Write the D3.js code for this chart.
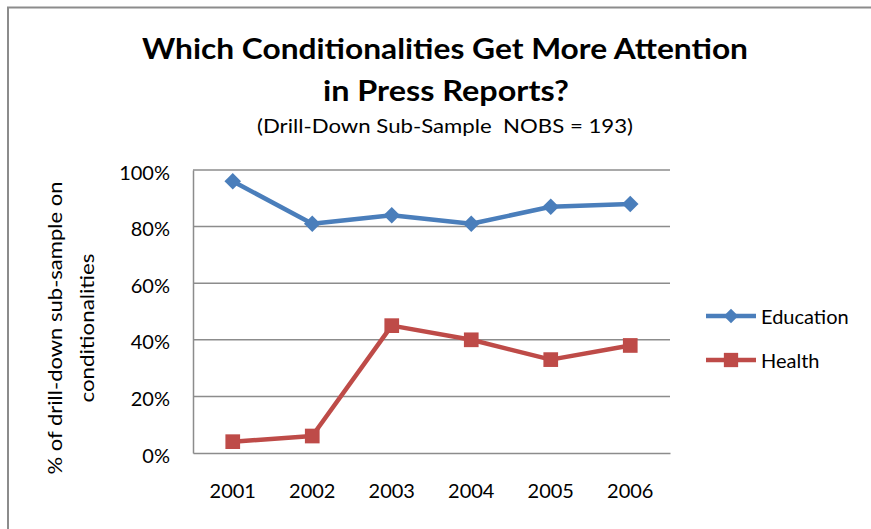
<!DOCTYPE html>
<html>
<head>
<meta charset="utf-8">
<script src="https://cdn.jsdelivr.net/npm/d3@7"></script>
<style>
  html, body { margin: 0; padding: 0; background: #fff; overflow: hidden; }
  svg { display: block; font-family: Lato, "Open Sans", "DejaVu Sans", sans-serif; }
</style>
</head>
<body>
<svg id="chart" width="871" height="529"></svg>
<script>
// Chart data
const years = ["2001", "2002", "2003", "2004", "2005", "2006"];
const education = [0.96, 0.81, 0.84, 0.81, 0.87, 0.88];
const health = [0.04, 0.06, 0.45, 0.40, 0.33, 0.38];
const yTicks = [0, 0.2, 0.4, 0.6, 0.8, 1.0];
const seriesNames = ["Education", "Health"];
const seriesColors = ["#4A7EBB", "#BE4B48"];

const svg = d3.select("#chart");
const W = 871, H = 529;

// Outer chart frame: only its left and top edges fall inside the view
svg.append("path")
  .attr("d", `M8,${H} V7.5 H${W}`)
  .attr("fill", "none")
  .attr("stroke", "#8c8c8c").attr("stroke-width", 2);

// Titles
svg.append("text")
  .attr("x", 445).attr("y", 59)
  .attr("text-anchor", "middle")
  .attr("font-weight", "bold").attr("font-size", 29)
  .attr("textLength", 606).attr("lengthAdjust", "spacingAndGlyphs")
  .text("Which Conditionalities Get More Attention");
svg.append("text")
  .attr("x", 446).attr("y", 101)
  .attr("text-anchor", "middle")
  .attr("font-weight", "bold").attr("font-size", 29)
  .attr("textLength", 246).attr("lengthAdjust", "spacingAndGlyphs")
  .text("in Press Reports?");
svg.append("text")
  .attr("x", 445).attr("y", 133)
  .attr("text-anchor", "middle")
  .attr("font-size", 20)
  .attr("textLength", 376).attr("lengthAdjust", "spacingAndGlyphs")
  .attr("xml:space", "preserve")
  .text("(Drill-Down Sub-Sample  NOBS = 193)");

// Plot area
const plot = { left: 193, right: 670, top: 170, bottom: 453 };
const x = d3.scaleBand().domain(years).range([plot.left, plot.right]);
const y = d3.scaleLinear().domain([0, 1]).range([plot.bottom, plot.top]);

// Horizontal gridlines
svg.append("g")
  .selectAll("line")
  .data(yTicks.filter(d => d > 0))
  .join("line")
  .attr("x1", plot.left).attr("x2", plot.right)
  .attr("y1", d => y(d)).attr("y2", d => y(d))
  .attr("stroke", "#8c8c8c").attr("stroke-width", 1.5);

// Y axis
const yAxis = svg.append("g")
  .attr("transform", `translate(${plot.left},0)`)
  .call(d3.axisLeft(y).tickValues(yTicks).tickFormat(d3.format(".0%")).tickSize(0).tickPadding(23));
yAxis.select(".domain").attr("stroke", "#8c8c8c").attr("stroke-width", 1.5);
yAxis.selectAll("text")
  .attr("font-family", "Lato, 'Open Sans', sans-serif")
  .attr("font-size", 20).attr("fill", "#000").attr("dy", "0.45em");

// X axis
const xAxis = svg.append("g")
  .attr("transform", `translate(0,${plot.bottom})`)
  .call(d3.axisBottom(x).tickSize(0).tickPadding(31));
xAxis.select(".domain").attr("stroke", "#8c8c8c").attr("stroke-width", 1.5);
xAxis.selectAll("text")
  .attr("font-family", "Lato, 'Open Sans', sans-serif")
  .attr("font-size", 20).attr("fill", "#000");

// Y axis title (two lines)
const yTitle = svg.append("text")
  .attr("transform", "translate(0,328) rotate(-90)")
  .attr("text-anchor", "middle")
  .attr("font-size", 20);
yTitle.append("tspan").attr("x", 0).attr("y", 62)
  .attr("textLength", 293).attr("lengthAdjust", "spacingAndGlyphs")
  .text("% of drill-down sub-sample on");
yTitle.append("tspan").attr("x", 0).attr("y", 94)
  .attr("textLength", 149).attr("lengthAdjust", "spacingAndGlyphs")
  .text("conditionalities");

// Series lines and markers
const cx = d => x(d) + x.bandwidth() / 2;
const lineGen = d3.line().x(d => cx(d[0])).y(d => y(d[1]));
const diamond = d3.symbol().type(d3.symbolDiamond2).size(175);
const square = d3.symbol().type(d3.symbolSquare2).size(275);
const allSeries = [education, health];
const markers = [diamond, square];

allSeries.forEach((vals, i) => {
  const pts = years.map((yr, j) => [yr, vals[j]]);
  svg.append("path")
    .attr("d", lineGen(pts))
    .attr("fill", "none")
    .attr("stroke", seriesColors[i]).attr("stroke-width", 4.5)
    .attr("stroke-linejoin", "round");
  svg.append("g")
    .selectAll("path")
    .data(pts)
    .join("path")
    .attr("transform", d => `translate(${cx(d[0])},${y(d[1])})`)
    .attr("d", markers[i]())
    .attr("fill", seriesColors[i]);
});

// Legend
const legendY = [316, 360];
const legendMarkers = [
  d3.symbol().type(d3.symbolDiamond2).size(135),
  d3.symbol().type(d3.symbolSquare2).size(260)
];
seriesNames.forEach((name, i) => {
  const g = svg.append("g");
  g.append("line")
    .attr("x1", 706).attr("x2", 756)
    .attr("y1", legendY[i]).attr("y2", legendY[i])
    .attr("stroke", seriesColors[i]).attr("stroke-width", 4.5);
  g.append("path")
    .attr("transform", `translate(731,${legendY[i]})`)
    .attr("d", legendMarkers[i]())
    .attr("fill", seriesColors[i]);
  g.append("text")
    .attr("x", 761).attr("y", legendY[i] + 8)
    .attr("font-size", 20)
    .text(name);
});
</script>
</body>
</html>
